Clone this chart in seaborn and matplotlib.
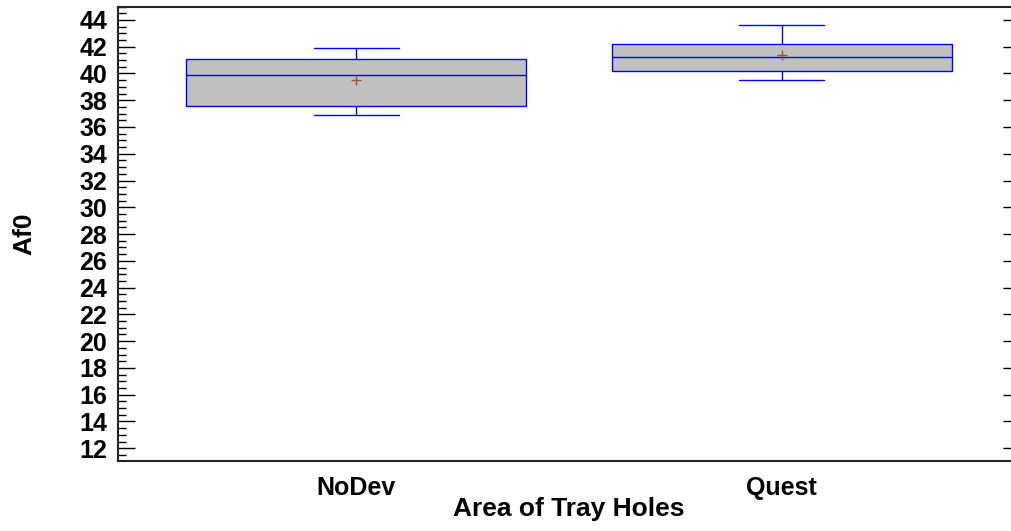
import pandas as pd
import matplotlib.pyplot as plt
import seaborn as sns
from matplotlib.ticker import MultipleLocator

# --- data (five-number summary per group) ---
categories = ['NoDev', 'Quest']
nodev_vals = [36.9, 37.6, 39.9, 41.1, 41.9]
quest_vals = [39.5, 40.2, 41.2, 42.2, 43.6]
y_ticks = list(range(12, 46, 2))

df = pd.DataFrame({
    'Area of Tray Holes': [categories[0]] * len(nodev_vals) + [categories[1]] * len(quest_vals),
    'Af0': nodev_vals + quest_vals,
})

sns.set_style('white')
plt.rcParams['font.family'] = ['Liberation Sans', 'DejaVu Sans']
plt.rcParams['font.weight'] = 'bold'
plt.rcParams['text.color'] = 'black'
plt.rcParams['axes.labelcolor'] = 'black'
plt.rcParams['xtick.color'] = 'black'
plt.rcParams['ytick.color'] = 'black'

fig = plt.figure(figsize=(10.12, 5.31), dpi=100)
ax = fig.add_axes([118 / 1012, 1 - 460.7 / 531, 902 / 1012, 454.2 / 531])

sns.boxplot(data=df, x='Area of Tray Holes', y='Af0', order=categories,
            color='#C0C0C0', linecolor='#0000FF', linewidth=1, width=0.8,
            saturation=1, showmeans=True, capwidths=0.2, ax=ax,
            meanprops=dict(marker='+', markeredgecolor='#A0522D',
                           markersize=7, markeredgewidth=1))

ax.set_xlim(-0.56, 1.56)
ax.set_ylim(11.07, 45)
ax.set_yticks(y_ticks)
ax.yaxis.set_minor_locator(MultipleLocator(0.5))

ax.tick_params(axis='y', which='major', direction='in', length=12, width=1,
               labelsize=18, pad=8, right=True, left=True)
ax.tick_params(axis='y', which='minor', direction='in', length=6, width=1,
               left=True, right=False)
ax.tick_params(axis='x', length=0, labelsize=18, pad=11)
for lbl in ax.get_xticklabels() + ax.get_yticklabels():
    lbl.set_fontweight('bold')

for side in ['left', 'top', 'bottom', 'right']:
    ax.spines[side].set_visible(True)
    ax.spines[side].set_color('#222222')
    ax.spines[side].set_linewidth(1.5)

ax.set_xlabel('Area of Tray Holes', fontsize=19, fontweight='bold')
ax.set_ylabel('Af0', fontsize=19, fontweight='bold')
ax.xaxis.set_label_coords(0.5, -0.080)
ax.yaxis.set_label_coords(-0.091, 0.5)

plt.savefig('out.png', dpi=100)
